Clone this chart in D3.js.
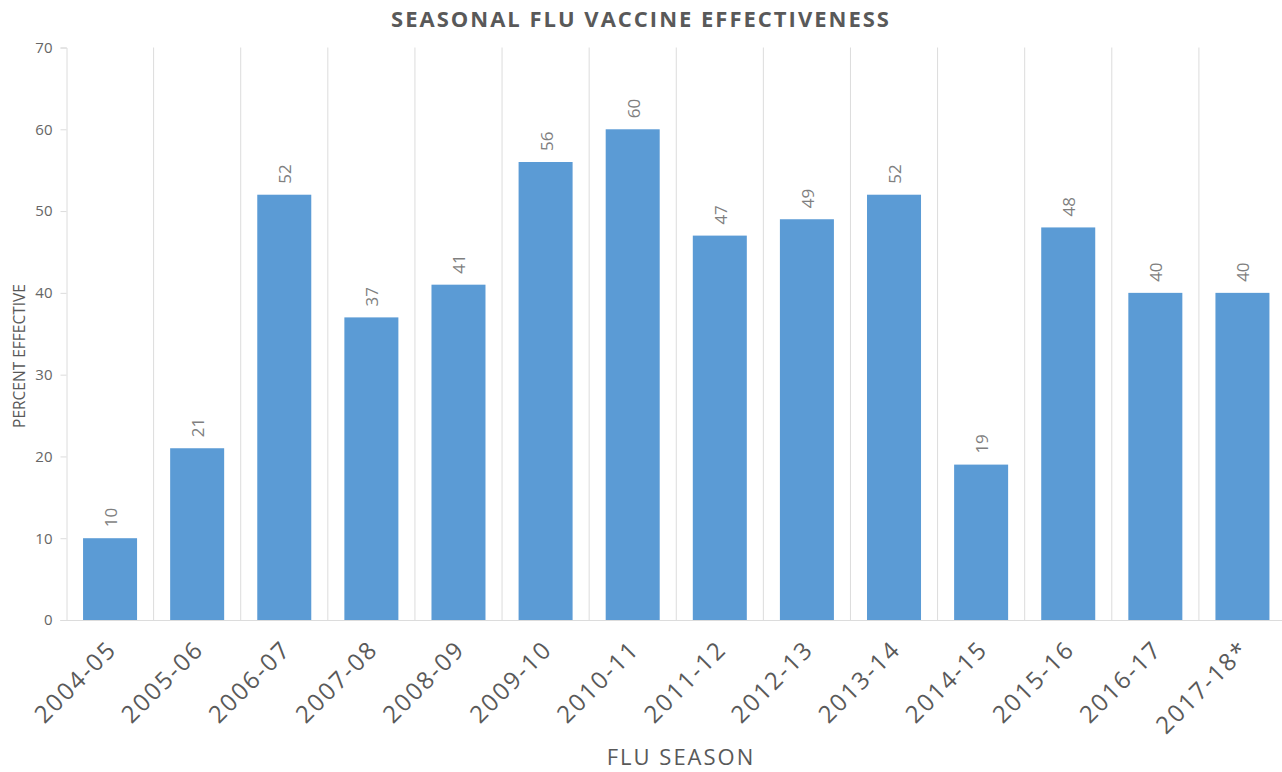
<html><head>
  <script src="https://d3js.org/d3.v7.min.js"></script>
  <style>
    body { margin: 0; background: #fff; }
    text { font-family: 'Open Sans', 'Noto Sans', Arial, sans-serif; }
  </style>
</head>
<body>
<script>
  // Data
  const seasons = ["2004-05", "2005-06", "2006-07", "2007-08", "2008-09", "2009-10", "2010-11",
                   "2011-12", "2012-13", "2013-14", "2014-15", "2015-16", "2016-17", "2017-18*"]
  const effectiveness = [10, 21, 52, 37, 41, 56, 60, 47, 49, 52, 19, 48, 40, 40]
  const yTicks = [0, 10, 20, 30, 40, 50, 60, 70]

  const width = 1282, height = 772
  const plotLeft = 66.5, plotRight = 1286, plotTop = 47.5, plotBottom = 620

  const svg = d3.select("body").append("svg")
                .attr("width", width)
                .attr("height", height)
                .style("display", "block")

  const x = d3.scaleBand().domain(seasons).range([plotLeft, plotRight]).paddingInner(0.38).paddingOuter(0.19)
  const y = d3.scaleLinear().domain([0, 70]).range([plotBottom, plotTop])

  const step = x.step()

  // vertical gridlines at category boundaries
  svg.append("g").selectAll("line")
     .data(seasons.slice(1))
     .join("line")
     .attr("x1", d => x(d) - x.paddingOuter() * step)
     .attr("x2", d => x(d) - x.paddingOuter() * step)
     .attr("y1", plotTop)
     .attr("y2", plotBottom)
     .attr("stroke", "#dcdcdc")
     .attr("stroke-width", 1)

  // y axis
  const yAxis = svg.append("g")
     .attr("transform", `translate(${plotLeft},0)`)
     .call(d3.axisLeft(y).tickValues(yTicks).tickSize(6).tickPadding(8))
  yAxis.select(".domain").attr("stroke", "#dcdcdc")
  yAxis.selectAll(".tick line").attr("stroke", "#dcdcdc")
  yAxis.selectAll("text").attr("fill", "#666").style("font-size", "15px")

  // x axis
  const xAxis = svg.append("g")
     .attr("transform", `translate(0,${plotBottom})`)
     .call(d3.axisBottom(x).tickSize(0).tickPadding(0))
  xAxis.select(".domain").attr("stroke", "#dcdcdc").attr("d", `M${plotLeft - 6},0.5H${width}`)
  xAxis.selectAll("text")
       .attr("fill", "#595959")
       .style("font-size", "24px")
       .style("letter-spacing", "2px")
       .attr("text-anchor", "end")
       .attr("dy", null)
       .attr("transform", "translate(8,31) rotate(-45)")

  // bars
  svg.append("g").selectAll("rect")
     .data(seasons)
     .join("rect")
     .attr("x", d => x(d))
     .attr("width", x.bandwidth())
     .attr("y", (d, i) => y(effectiveness[i]))
     .attr("height", (d, i) => plotBottom - y(effectiveness[i]))
     .attr("fill", "#5b9bd5")

  // value labels
  svg.append("g").selectAll("text")
     .data(seasons)
     .join("text")
     .attr("transform", (d, i) => `translate(${x(d) + x.bandwidth() / 2 + 7},${y(effectiveness[i]) - 11}) rotate(-90)`)
     .attr("text-anchor", "start")
     .style("font-size", "17px")
     .attr("fill", "#7f7f7f")
     .text((d, i) => effectiveness[i])

  // title
  svg.append("text")
     .attr("x", 641)
     .attr("y", 27)
     .attr("text-anchor", "middle")
     .style("font-size", "22px")
     .style("font-weight", "bold")
     .style("letter-spacing", "2px")
     .attr("fill", "#595959")
     .text("SEASONAL FLU VACCINE EFFECTIVENESS")

  // axis titles
  svg.append("text")
     .attr("transform", `translate(25,356) rotate(-90)`)
     .attr("text-anchor", "middle")
     .style("font-size", "15.5px")
     .attr("fill", "#595959")
     .text("PERCENT EFFECTIVE")

  svg.append("text")
     .attr("x", 681)
     .attr("y", 765)
     .attr("text-anchor", "middle")
     .style("font-size", "22px")
     .style("letter-spacing", "2px")
     .attr("fill", "#595959")
     .text("FLU SEASON")
</script>
</body></html>
